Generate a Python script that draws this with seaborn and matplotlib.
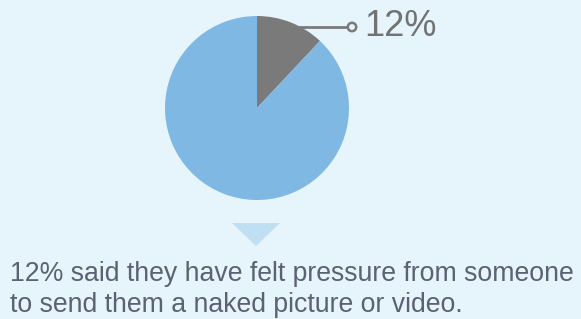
import matplotlib
matplotlib.use("Agg")
import matplotlib.pyplot as plt
import seaborn as sns
from matplotlib.patches import Polygon, Circle

sns.set_theme(style="white")
plt.rcParams['font.family'] = ['Liberation Sans', 'DejaVu Sans']

labels = ["Felt pressure", "Did not"]
values = [12, 88]
colors = ["#7a7a7a", "#80b8e4"]
pct_label = "12%"
caption_lines = ["12% said they have felt pressure from someone",
                 "to send them a naked picture or video."]

W, H = 581, 319
bg = "#e6f4fb"
fig = plt.figure(figsize=(W / 100, H / 100), dpi=100, facecolor=bg)
ax = fig.add_axes([0, 0, 1, 1])
ax.set_facecolor(bg)

cx, cy, r = 257, H - 108, 92
ax.pie(values, colors=colors, startangle=90, counterclock=False,
       center=(cx, cy), radius=r, wedgeprops=dict(linewidth=0))
ax.set_xlim(0, W)
ax.set_ylim(0, H)
ax.set_aspect("equal")
ax.axis("off")

# leader line
ly = H - 27
ax.plot([290, 348], [ly, ly], color="#7a7a7a", lw=2, solid_capstyle="butt", zorder=5)
ax.add_patch(Circle((352, ly), 4.2, facecolor=bg, edgecolor="#7a7a7a", lw=1.8, zorder=6))
ax.text(364, ly, pct_label, fontsize=26, color="#727272", va="center", ha="left", zorder=6)

# triangle
ax.add_patch(Polygon([[232, H - 223], [280, H - 223], [256, H - 246]], closed=True,
                     facecolor="#c0dff2", edgecolor="none"))

for line, base in zip(caption_lines, [281, 312]):
    ax.text(10, H - base, line, fontsize=19.2, color="#5b6272", va="baseline", ha="left")

fig.savefig("out.png", dpi=100, facecolor=bg)
